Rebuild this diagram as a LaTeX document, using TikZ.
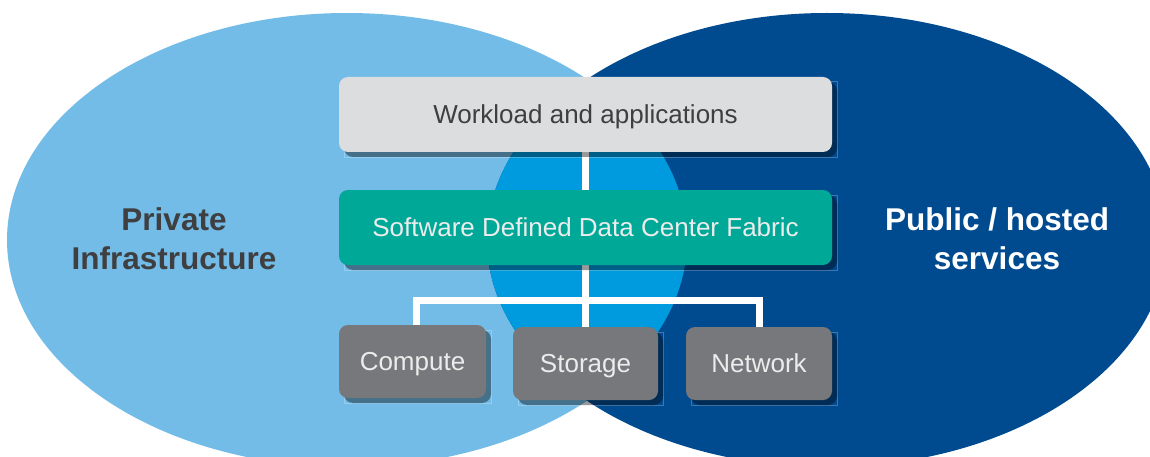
\documentclass[tikz,border=0pt]{standalone}
\usepackage{fontspec}
\setmainfont{Liberation Sans}
\usetikzlibrary{shadows}
\definecolor{lightblue}{HTML}{73BCE7}
\definecolor{darkblue}{HTML}{004A8F}
\definecolor{lensblue}{HTML}{009BDE}
\definecolor{wlgrey}{HTML}{DCDDDF}
\definecolor{tealbox}{HTML}{00A898}
\definecolor{greybox}{HTML}{77787B}
\definecolor{textdark}{HTML}{3F3F41}
\definecolor{textlight}{HTML}{ECECEC}
\pgfdeclarelayer{bg}
\pgfdeclarelayer{mid}
\pgfsetlayers{bg,mid,main}
\begin{document}
\begin{tikzpicture}[x=1pt,y=-1pt,
  boxbase/.style={rounded corners=9pt, inner sep=0pt,
    font=\fontsize{26}{30}\selectfont, text height=18.6pt, text depth=0pt,
    drop shadow={shadow xshift=5pt, shadow yshift=-5pt, opacity=0.4, fill=black}},
  widebox/.style={boxbase, minimum width=493pt, minimum height=75pt},
  unitbox/.style={boxbase, minimum width=146pt, minimum height=73pt, fill=greybox, text=textlight},
  conn/.style={draw=white, line width=7pt, line join=miter},
  ghost/.style={draw=white, draw opacity=0.25, line width=0.6pt},
  lbl/.style={font=\bfseries\fontsize{31.5}{39}\selectfont, align=center, anchor=base}]
\useasboundingbox (0,0) rectangle (1150,457);
\begin{pgfonlayer}{bg}
  \fill[white] (0,0) rectangle (1150,457);
  \fill[lightblue] (347,240) ellipse [x radius=340pt, y radius=227pt];
  \fill[darkblue] (827,240) ellipse [x radius=340pt, y radius=227pt];
  \begin{scope}
    \clip (347,240) ellipse [x radius=340pt, y radius=227pt];
    \fill[lensblue] (827,240) ellipse [x radius=340pt, y radius=227pt];
  \end{scope}
\end{pgfonlayer}

\node[widebox, fill=wlgrey, text=textdark] (wl) at (585.5,114.5) {Workload and applications};
\node[widebox, fill=tealbox, text=textlight] (sddc) at (585.5,227.5) {Software Defined Data Center Fabric};
\node[unitbox, minimum width=147pt] (cp) at (412.5,361.5) {Compute};
\node[unitbox, minimum width=145pt] (st) at (585.5,363.5) {Storage};
\node[unitbox] (nw) at (759,363.5) {Network};
\coordinate (bus) at (586,300);

\node[lbl, text=textdark] (priv) at (174,269) {Private\\Infrastructure};
\node[lbl, text=white] (pub) at (997,269) {Public / hosted\\services};

\begin{pgfonlayer}{mid}
  \draw[conn] (wl.south) -- (sddc.north);
  \draw[conn] (sddc.south) -- (st.north);
  \draw[conn] ([xshift=3.5pt]cp.north) |- (bus) -| (nw.north);
  \foreach \n in {wl,sddc,cp,st,nw}
    \draw[ghost] ([xshift=5pt,yshift=-5pt]\n.north west) rectangle ([xshift=5pt,yshift=-5pt]\n.south east);
\end{pgfonlayer}
\end{tikzpicture}
\end{document}
